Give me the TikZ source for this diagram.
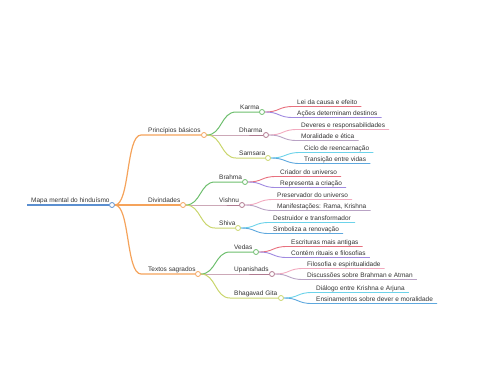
\documentclass[tikz,border=0pt]{standalone}
\usepackage{fontspec}
\setmainfont{Liberation Sans}
\definecolor{cRoot}{HTML}{5B8FD0}
\definecolor{cOr}{HTML}{F5A35B}
\definecolor{cGr}{HTML}{6DBE6D}
\definecolor{cMa}{HTML}{B07A90}
\definecolor{cYe}{HTML}{C9D56B}
\definecolor{cRe}{HTML}{E8707E}
\definecolor{cPu}{HTML}{A08AE0}
\definecolor{cPi}{HTML}{F2AABF}
\definecolor{cGp}{HTML}{B9A3C5}
\definecolor{cCy}{HTML}{6CD3EA}
\definecolor{cBl}{HTML}{5EA8DE}
\definecolor{cTxt}{HTML}{333333}
\newcommand\mmbranch[9]{%
  \coordinate (#1s) at (#3,#4);
  \node[dot, draw=#8] (#1) at (#5,#4) {};
  \node[lbl, anchor=base west] (#1t) at (#3+#6,#4-2.5) {#7};
  \draw[#8, line width=#9] (#2.east) .. controls +(15,0) and +(-15,0) .. (#1s) -- (#1);
}
\newcommand\mmleaf[6]{%
  \coordinate (#1s) at (#3,#4);
  \node[lbl, inner xsep=4pt, anchor=base west] (#1t) at (#3,#4-2.5) {#5};
  \draw[#6, line width=0.9pt] (#2.east) .. controls +(15,0) and +(-15,0) .. (#1s) -- (#1s -| #1t.east);
}
\begin{document}
\begin{tikzpicture}[x=1pt,y=-1pt,
  dot/.style={circle, fill=white, inner sep=0pt, minimum size=5pt, line width=0.8pt},
  lbl/.style={inner sep=0pt, font=\fontsize{6.5}{7.5}\selectfont, text=cTxt}]
\useasboundingbox (0,0) rectangle (480,384);
% root
\coordinate (roots) at (27,205);
\node[dot, draw=cRoot] (root) at (112,205) {};
\node[lbl, anchor=base west] (roott) at (31,202.5) {Mapa mental do hinduísmo};
\draw[cRoot, line width=1.5pt] (roots) -- (root);
% level 1
\mmbranch{P}{root}{141}{135}{204}{7}{Princípios básicos}{cOr}{1.2pt}
\mmbranch{D}{root}{141}{205}{183}{7}{Divindades}{cOr}{1.2pt}
\mmbranch{T}{root}{141}{274}{198}{7}{Textos sagrados}{cOr}{1.2pt}
% level 2
\mmbranch{K}{P}{236}{112}{262}{4}{Karma}{cGr}{1pt}
\mmbranch{Dh}{P}{236}{135}{266}{3}{Dharma}{cMa}{1pt}
\mmbranch{S}{P}{236}{158}{268}{3}{Samsara}{cYe}{1pt}
\mmbranch{B}{D}{215}{182}{245}{4}{Brahma}{cGr}{1pt}
\mmbranch{V}{D}{215}{205}{242}{4}{Vishnu}{cMa}{1pt}
\mmbranch{Sh}{D}{215}{228}{238}{4}{Shiva}{cYe}{1pt}
\mmbranch{Ve}{T}{230}{252}{256}{4}{Vedas}{cGr}{1pt}
\mmbranch{U}{T}{230}{274}{272}{4}{Upanishads}{cMa}{1pt}
\mmbranch{G}{T}{230}{298}{281}{4}{Bhagavad Gita}{cYe}{1pt}
% leaves
\mmleaf{K1}{K}{293}{106.5}{Lei da causa e efeito}{cRe}
\mmleaf{K2}{K}{293}{117.5}{Ações determinam destinos}{cPu}
\mmleaf{Dh1}{Dh}{297}{129.5}{Deveres e responsabilidades}{cPi}
\mmleaf{Dh2}{Dh}{297}{140.5}{Moralidade e ética}{cGp}
\mmleaf{S1}{S}{300}{152.5}{Ciclo de reencarnação}{cCy}
\mmleaf{S2}{S}{300}{163.5}{Transição entre vidas}{cBl}
\mmleaf{B1}{B}{276}{176.5}{Criador do universo}{cRe}
\mmleaf{B2}{B}{276}{187.5}{Representa a criação}{cPu}
\mmleaf{V1}{V}{273}{199.5}{Preservador do universo}{cPi}
\mmleaf{V2}{V}{273}{210.5}{Manifestações: Rama, Krishna}{cGp}
\mmleaf{Sh1}{Sh}{269}{222.5}{Destruidor e transformador}{cCy}
\mmleaf{Sh2}{Sh}{269}{233.5}{Simboliza a renovação}{cBl}
\mmleaf{Ve1}{Ve}{287}{246.5}{Escrituras mais antigas}{cRe}
\mmleaf{Ve2}{Ve}{287}{257.5}{Contém rituais e filosofias}{cPu}
\mmleaf{U1}{U}{303}{268.5}{Filosofia e espiritualidade}{cPi}
\mmleaf{U2}{U}{303}{279.5}{Discussões sobre Brahman e Atman}{cGp}
\mmleaf{G1}{G}{312}{292.5}{Diálogo entre Krishna e Arjuna}{cCy}
\mmleaf{G2}{G}{312}{303.5}{Ensinamentos sobre dever e moralidade}{cBl}
\end{tikzpicture}
\end{document}
